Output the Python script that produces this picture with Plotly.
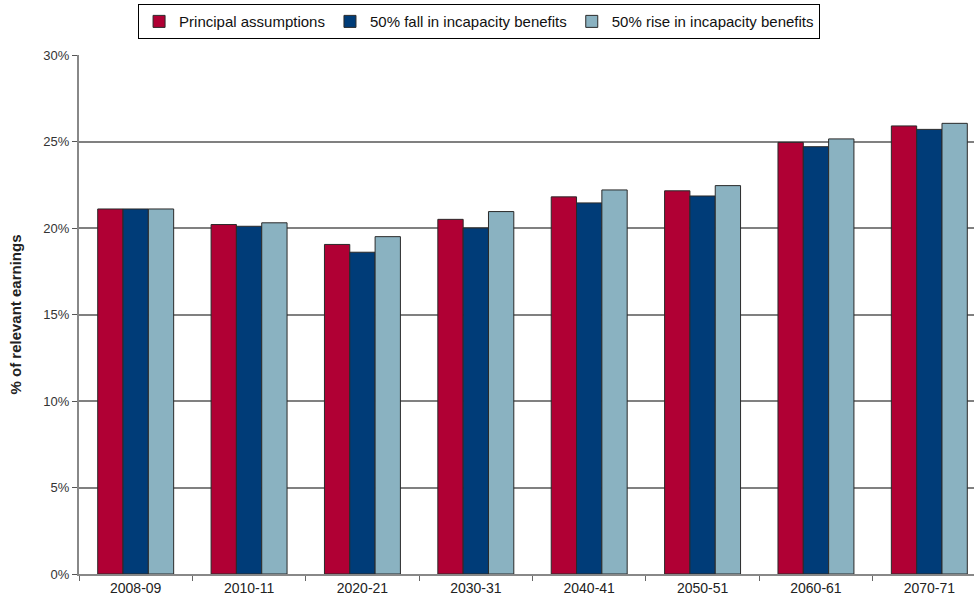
import plotly.graph_objects as go

categories = ["2008-09", "2010-11", "2020-21", "2030-31", "2040-41", "2050-51", "2060-61", "2070-71"]
principal = [21.1, 20.2, 19.05, 20.5, 21.8, 22.15, 24.95, 25.9]
fall50 = [21.1, 20.1, 18.6, 20.0, 21.45, 21.85, 24.7, 25.7]
rise50 = [21.1, 20.3, 19.5, 20.95, 22.2, 22.45, 25.15, 26.05]
series_names = ["Principal assumptions", "50% fall in incapacity benefits", "50% rise in incapacity benefits"]
colors = ["#B00034", "#003C78", "#8AB2C1"]

fig = go.Figure()
for name, vals, col in zip(series_names, [principal, fall50, rise50], colors):
    fig.add_trace(go.Bar(
        x=categories, y=vals, name=name,
        marker=dict(color=col, line=dict(color="#2a2a2a", width=1)),
    ))

fig.update_layout(
    width=974, height=600,
    margin=dict(l=79, r=0, t=55, b=26),
    paper_bgcolor="white", plot_bgcolor="white",
    barmode="group", bargap=0.33, bargroupgap=0,
    font=dict(family="Liberation Sans, Arial, sans-serif", size=13, color="#333333"),
    legend=dict(
        orientation="h", x=0.447, xanchor="center", y=1.098, yanchor="top",
        bordercolor="#000000", borderwidth=1, bgcolor="white",
        font=dict(size=15, color="#111111"),
        itemwidth=30, tracegroupgap=0,
    ),
    showlegend=True,
)
fig.update_xaxes(
    type="category",
    range=[-0.5, 7.394],
    showline=True, linecolor="#888888", linewidth=2,
    ticks="outside", tickson="boundaries", ticklen=5, tickcolor="#666666", tickwidth=1,
    tickfont=dict(size=14, color="#222222"),
    showgrid=False,
)
fig.update_yaxes(
    range=[0, 30], dtick=5, ticksuffix="%",
    showline=True, linecolor="#888888", linewidth=2,
    ticks="outside", ticklen=5, tickcolor="#555555", tickwidth=1,
    showgrid=True, gridcolor="#808080", gridwidth=1.5,
    tickfont=dict(size=13, color="#333333"),
    title=dict(text="<b>% of relevant earnings</b>", font=dict(size=15, color="#222222"), standoff=18),
    zeroline=False,
)

fig.write_html("out.html")
